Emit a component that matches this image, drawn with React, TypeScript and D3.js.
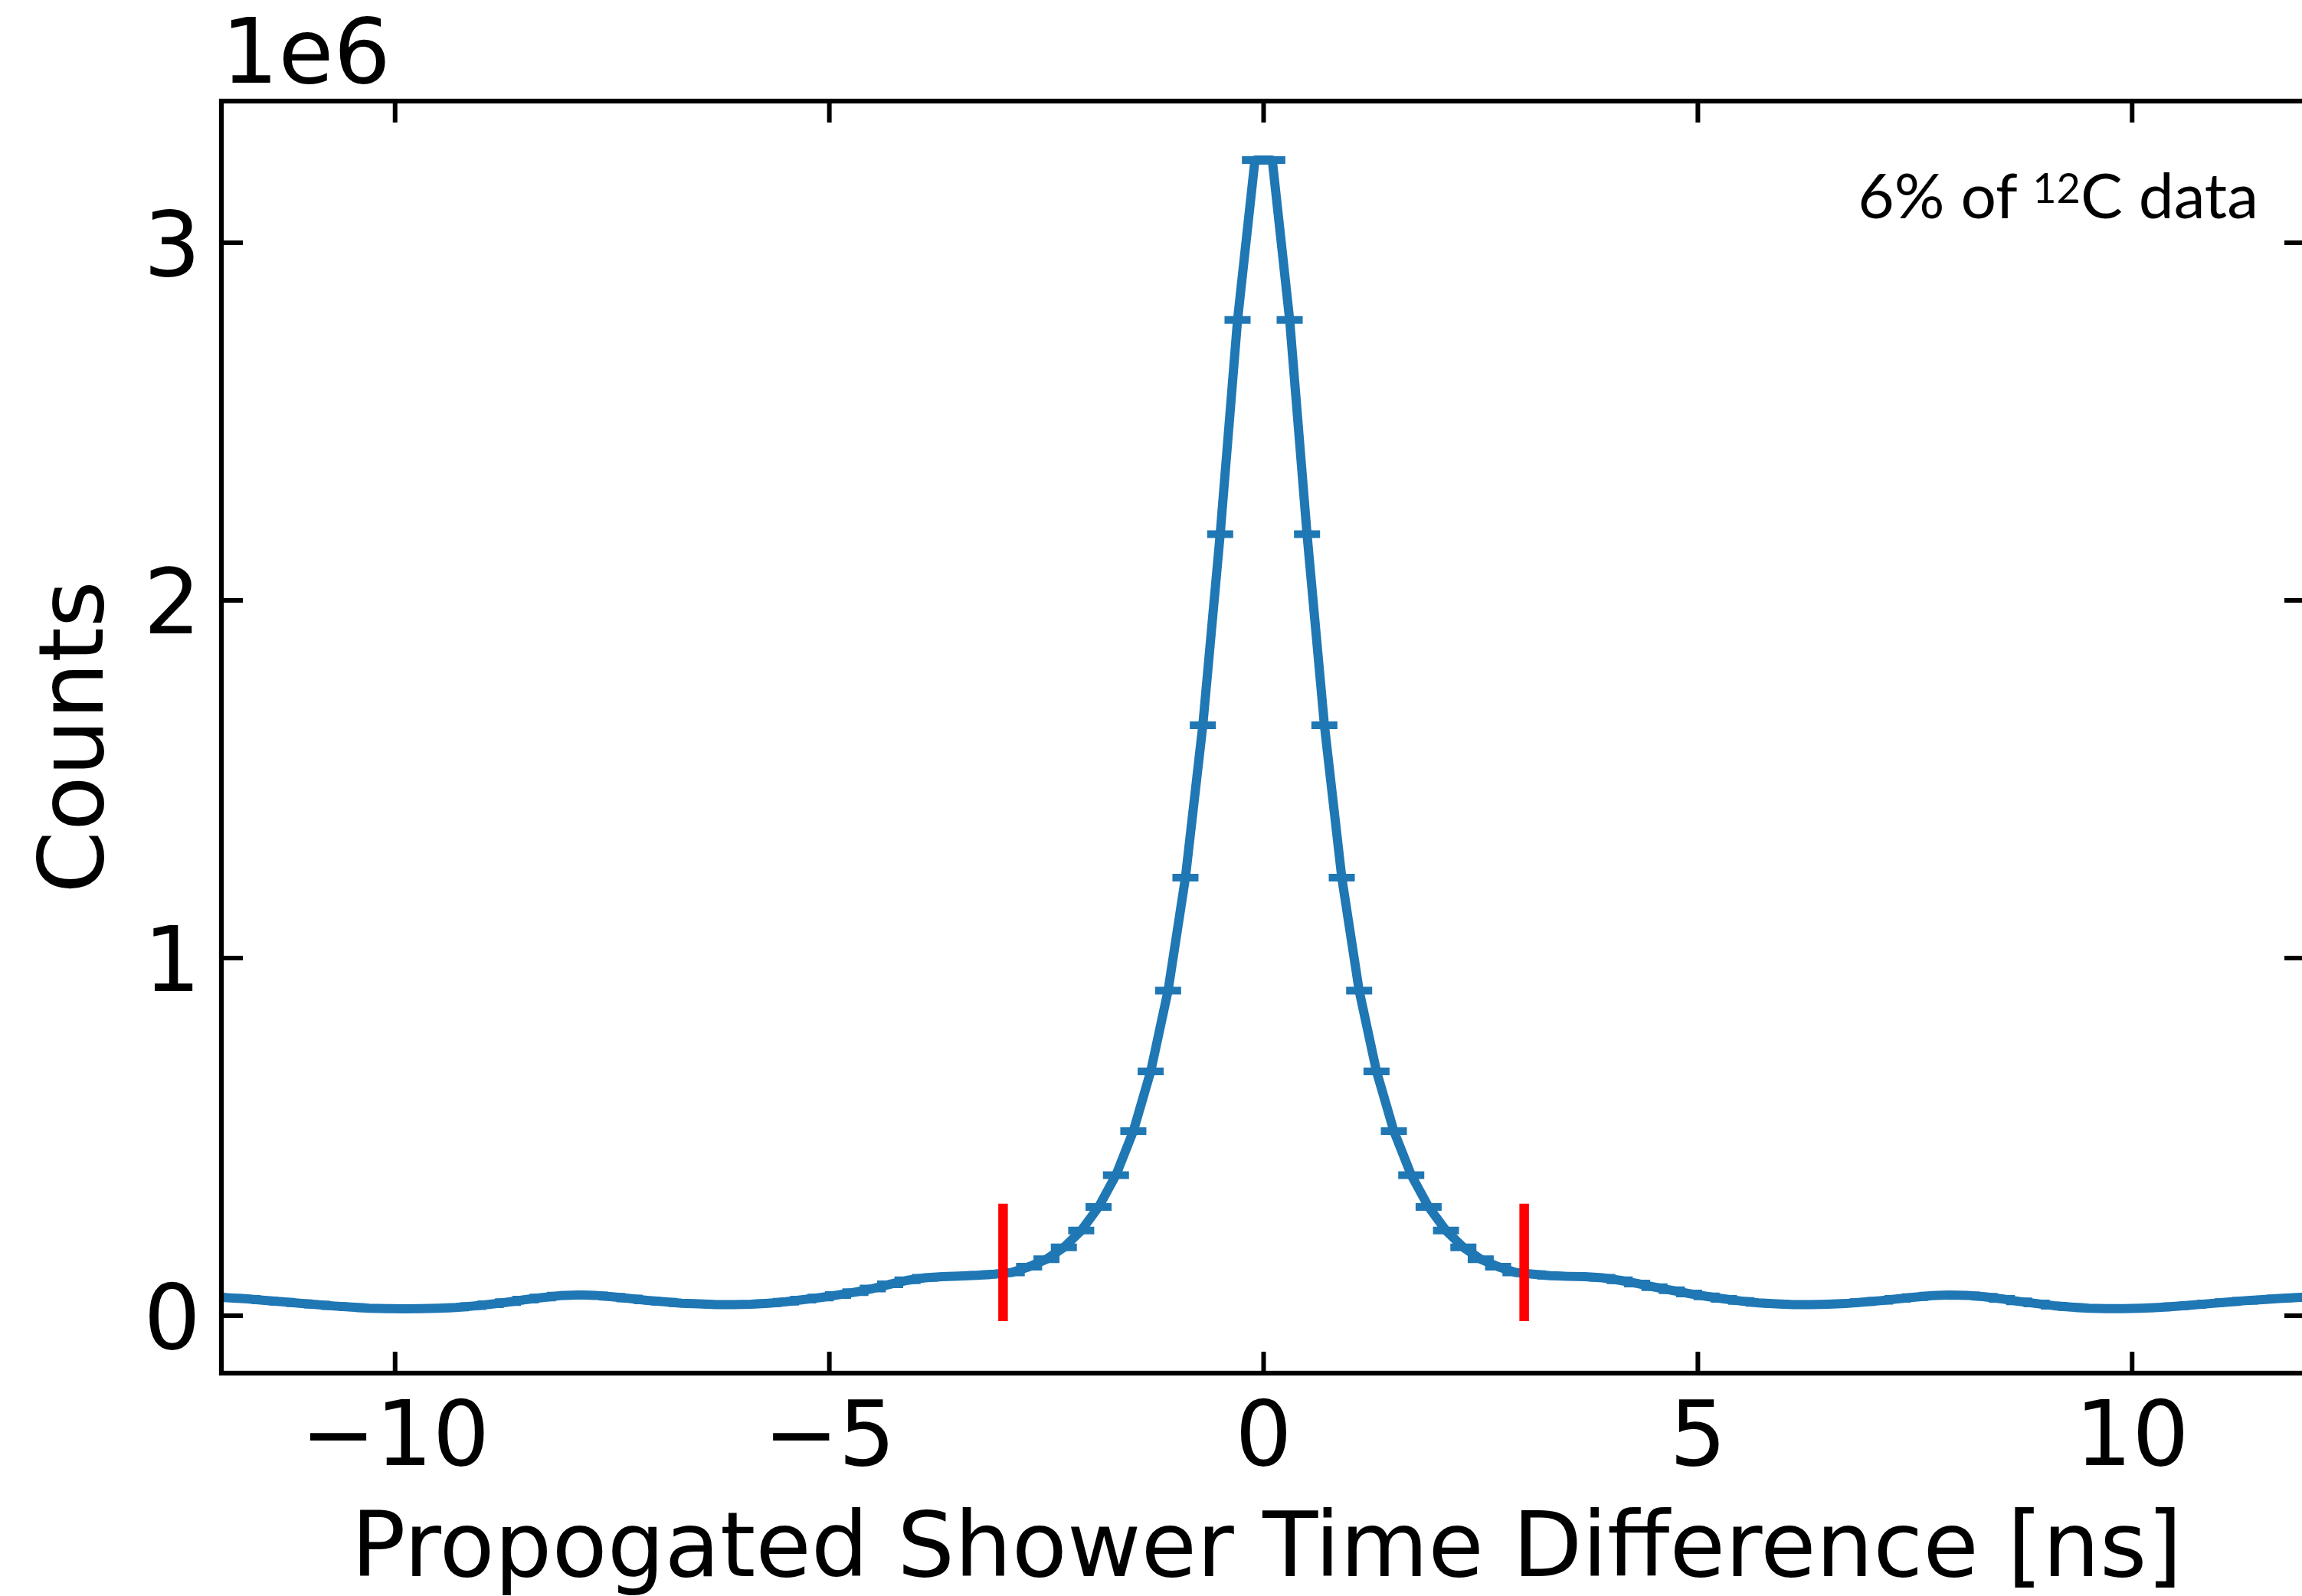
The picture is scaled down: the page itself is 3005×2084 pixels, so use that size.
import React from 'react';
import * as d3 from 'd3';

// Bin centers (ns) and counts (in units of 1e6)
const TIME_NS = [
  -12.1, -11.9, -11.7, -11.5, -11.3, -11.1, -10.9, -10.7, -10.5, -10.3, -10.1,
  -9.9, -9.7, -9.5, -9.3, -9.1, -8.9, -8.7, -8.5, -8.3, -8.1,
  -7.9, -7.7, -7.5, -7.3, -7.1, -6.9, -6.7, -6.5, -6.3, -6.1,
  -5.9, -5.7, -5.5, -5.3, -5.1, -4.9, -4.7, -4.5, -4.3, -4.1,
  -3.9, -3.7, -3.5, -3.3, -3.1, -2.9, -2.7, -2.5, -2.3, -2.1,
  -1.9, -1.7, -1.5, -1.3, -1.1, -0.9, -0.7, -0.5, -0.3, -0.1,
  0.1, 0.3, 0.5, 0.7, 0.9, 1.1, 1.3, 1.5, 1.7, 1.9,
  2.1, 2.3, 2.5, 2.7, 2.9, 3.1, 3.3, 3.5, 3.7, 3.9,
  4.1, 4.3, 4.5, 4.7, 4.9, 5.1, 5.3, 5.5, 5.7, 5.9,
  6.1, 6.3, 6.5, 6.7, 6.9, 7.1, 7.3, 7.5, 7.7, 7.9,
  8.1, 8.3, 8.5, 8.7, 8.9, 9.1, 9.3, 9.5, 9.7, 9.9,
  10.1, 10.3, 10.5, 10.7, 10.9, 11.1, 11.3, 11.5, 11.7, 11.9, 12.1,
];

const COUNTS_M = [
  0.053, 0.050, 0.047, 0.043, 0.039, 0.035, 0.031, 0.027, 0.024, 0.021, 0.020,
  0.019, 0.020, 0.021, 0.023, 0.027, 0.032, 0.038, 0.045, 0.051, 0.056,
  0.058, 0.057, 0.053, 0.048, 0.043, 0.039, 0.035, 0.033, 0.031, 0.031,
  0.032, 0.035, 0.039, 0.045, 0.051, 0.058, 0.066, 0.076, 0.088, 0.099,
  0.106, 0.109, 0.111, 0.113, 0.116, 0.121, 0.137, 0.158, 0.191, 0.238,
  0.304, 0.393, 0.516, 0.683, 0.909, 1.225, 1.651, 2.185, 2.784, 3.231,
  3.231, 2.784, 2.185, 1.651, 1.225, 0.909, 0.683, 0.516, 0.393, 0.304,
  0.238, 0.191, 0.158, 0.137, 0.121, 0.116, 0.112, 0.110, 0.109, 0.106,
  0.099, 0.090, 0.080, 0.071, 0.062, 0.054, 0.047, 0.041, 0.036, 0.033,
  0.031, 0.031, 0.032, 0.034, 0.038, 0.042, 0.047, 0.052, 0.056, 0.058,
  0.057, 0.053, 0.047, 0.040, 0.034, 0.028, 0.024, 0.021, 0.020, 0.020,
  0.021, 0.023, 0.026, 0.030, 0.034, 0.038, 0.042, 0.045, 0.048, 0.051, 0.053,
];

const X_TICKS = [-10, -5, 0, 5, 10];
const Y_TICKS = [0, 1, 2, 3];
const CUT_NS = [-3, 3];
const CUT_SPAN_M = [-0.015, 0.313];
const X_DOMAIN = [-12, 12];
const Y_DOMAIN = [-0.1606, 3.396];

const X_LABEL = 'Propogated Shower Time Difference [ns]';
const Y_LABEL = 'Counts';
const OFFSET_LABEL = '1e6';

const W = 3005;
const H = 2084;
const LEFT = 289;
const RIGHT = 3010;
const TOP = 132;
const BOTTOM = 1793;

const BLUE = '#1f77b4';
const FONT = 'DejaVu Sans';
const FS = 117;
const TICK_LEN = 28;
const TICK_W = 6;
const SPINE_W = 6.25;

const fmt = (v: number) => (v < 0 ? '\u2212' + Math.abs(v) : String(v));

export default function App() {
  const x = d3.scaleLinear().domain(X_DOMAIN).range([LEFT, RIGHT]);
  const y = d3.scaleLinear().domain(Y_DOMAIN).range([BOTTOM, TOP]);
  const pts: [number, number][] = TIME_NS.map((t, i) => [t, COUNTS_M[i]]);
  const line = d3
    .line<[number, number]>()
    .x((d) => x(d[0]))
    .y((d) => y(d[1]));
  const capHalf = 17;

  return (
    <div style={{ position: 'absolute', left: 0, top: 0, width: W, height: H, overflow: 'hidden', background: '#fff' }}>
      <svg width={W} height={H} style={{ display: 'block' }}>
        <defs>
          <clipPath id="plotclip">
            <rect x={LEFT} y={TOP} width={RIGHT - LEFT} height={BOTTOM - TOP} />
          </clipPath>
        </defs>
        <rect x={0} y={0} width={W} height={H} fill="#fff" />

        <g clipPath="url(#plotclip)">
          <path d={line(pts) || ''} fill="none" stroke={BLUE} strokeWidth={12} strokeLinejoin="round" />
          {pts.map((d, i) => (
            <line
              key={i}
              x1={x(d[0]) - capHalf}
              x2={x(d[0]) + capHalf}
              y1={y(d[1])}
              y2={y(d[1])}
              stroke={BLUE}
              strokeWidth={10}
            />
          ))}
          {CUT_NS.map((c, i) => (
            <line
              key={'cut' + i}
              x1={x(c)}
              x2={x(c)}
              y1={y(CUT_SPAN_M[0])}
              y2={y(CUT_SPAN_M[1])}
              stroke="#ff0000"
              strokeWidth={12.5}
            />
          ))}
        </g>

        {/* ticks (direction in, all four sides) */}
        {X_TICKS.map((t) => (
          <g key={'xt' + t}>
            <line x1={x(t)} x2={x(t)} y1={BOTTOM} y2={BOTTOM - TICK_LEN} stroke="#000" strokeWidth={TICK_W} />
            <line x1={x(t)} x2={x(t)} y1={TOP} y2={TOP + TICK_LEN} stroke="#000" strokeWidth={TICK_W} />
            <text x={x(t)} y={1913} textAnchor="middle" fontFamily={FONT} fontSize={FS} fill="#000">
              {fmt(t)}
            </text>
          </g>
        ))}
        {Y_TICKS.map((t) => (
          <g key={'yt' + t}>
            <line x1={LEFT} x2={LEFT + TICK_LEN} y1={y(t)} y2={y(t)} stroke="#000" strokeWidth={TICK_W} />
            <line x1={RIGHT} x2={RIGHT - TICK_LEN} y1={y(t)} y2={y(t)} stroke="#000" strokeWidth={TICK_W} />
            <text x={262} y={y(t) + 43} textAnchor="end" fontFamily={FONT} fontSize={FS} fill="#000">
              {fmt(t)}
            </text>
          </g>
        ))}

        {/* spines */}
        <rect
          x={LEFT}
          y={TOP}
          width={RIGHT - LEFT}
          height={BOTTOM - TOP}
          fill="none"
          stroke="#000"
          strokeWidth={SPINE_W}
        />

        {/* offset text */}
        <text x={289} y={108} fontFamily={FONT} fontSize={FS} fill="#000">
          {OFFSET_LABEL}
        </text>

        {/* axis labels */}
        <text x={(LEFT + RIGHT) / 2 + 4} y={2058} textAnchor="middle" fontFamily={FONT} fontSize={118} fill="#000">
          {X_LABEL}
        </text>
        <text
          transform={`translate(134, ${(TOP + BOTTOM) / 2}) rotate(-90)`}
          textAnchor="middle"
          fontFamily={FONT}
          fontSize={FS}
          fill="#000"
        >
          {Y_LABEL}
        </text>

        {/* annotation */}
        <text x={2948} y={285} textAnchor="end" fontFamily="Lato" fontSize={82} fill="#000">
          <tspan>6% of </tspan>
          <tspan fontSize={54} dy={-20}>12</tspan>
          <tspan dy={20}>C data</tspan>
        </text>
      </svg>
    </div>
  );
}
